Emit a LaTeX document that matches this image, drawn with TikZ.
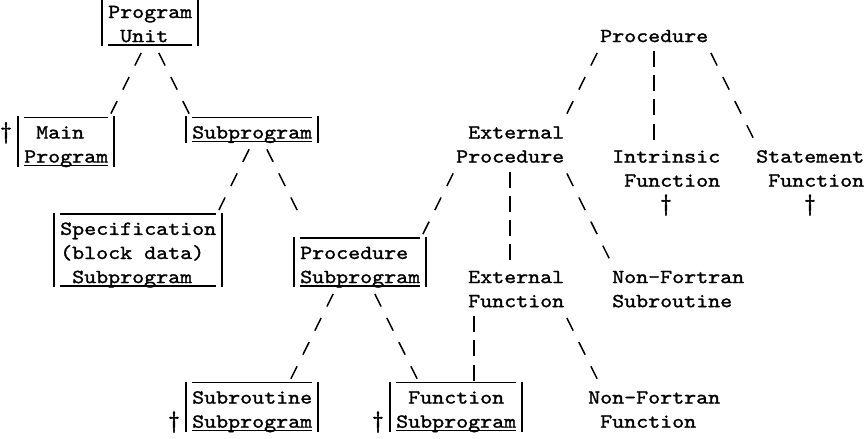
\documentclass[tikz,border=0pt]{standalone}
\usepackage{fontspec}
\newfontfamily\tw{lmmono10-regular.otf}[FakeStretch=1.142857,FakeBold=1.3]
\newfontfamily\twd{lmmono10-regular.otf}[FakeBold=2.5]
\usetikzlibrary{calc}
\begin{document}
\begin{tikzpicture}[x=1pt,y=-1pt,
  txt/.style={anchor=base west,inner sep=0pt,font=\tw\fontsize{20}{24.1}\selectfont},
  dag/.style={anchor=base,inner sep=0pt,font=\twd\fontsize{23}{24.1}\selectfont},
  rule/.style={line width=1.4pt},
  bar/.style={line width=1.6pt},
  diag/.style={line width=1.5pt,dash pattern=on 14pt off 12.92pt},
  vert/.style={line width=1.5pt,dash pattern=on 16pt off 8.1pt}]
\useasboundingbox (0,0) rectangle (868,439);
% ---------- text ----------
\node[txt] (pu1) at (108,18) {Program};
\node[txt] (pu2) at (120,42.1) {Unit};
\node[dag] (dg1) at (6,138.5) {†};
\node[txt] (mp1) at (36,138.5) {Main};
\node[txt] (mp2) at (24,162.6) {Program};
\node[txt] (sp) at (192,138.5) {Subprogram};
\node[txt] (sb1) at (60,234.9) {Specification};
\node[txt] (sb2) at (60,259) {(block data)};
\node[txt] (sb3) at (72,283.1) {Subprogram};
\node[txt] (ps1) at (300,259) {Procedure};
\node[txt] (ps2) at (300,283.1) {Subprogram};
\node[dag] (dg2) at (174,427.7) {†};
\node[txt] (sr1) at (192,403.6) {Subroutine};
\node[txt] (sr2) at (192,427.7) {Subprogram};
\node[dag] (dg3) at (378,427.7) {†};
\node[txt] (fs1) at (408,403.6) {Function};
\node[txt] (fs2) at (396,427.7) {Subprogram};
\node[txt] (pr) at (600,42.1) {Procedure};
\node[txt] (ep1) at (468,138.5) {External};
\node[txt] (ep2) at (456,162.6) {Procedure};
\node[txt] (if1) at (612,162.6) {Intrinsic};
\node[txt] (if2) at (624,186.7) {Function};
\node[dag] (dg4) at (666,210.8) {†};
\node[txt] (sf1) at (756,162.6) {Statement};
\node[txt] (sf2) at (768,186.7) {Function};
\node[dag] (dg5) at (810,210.8) {†};
\node[txt] (ef1) at (468,283.1) {External};
\node[txt] (ef2) at (468,307.2) {Function};
\node[txt] (ns1) at (612,283.1) {Non-Fortran};
\node[txt] (ns2) at (612,307.2) {Subroutine};
\node[txt] (nf1) at (588,403.6) {Non-Fortran};
\node[txt] (nf2) at (600,427.7) {Function};
% ---------- boxes ----------
% Program Unit
\draw[bar] (102,0) -- (102,46.1) (198,0) -- (198,46.1);
\draw[rule] (108,45.1) -- (192,45.1);
% Main Program
\draw[bar] (18,116.4) -- (18,166.6) (114,116.4) -- (114,166.6);
\draw[rule] (24,117.4) -- (108,117.4) (24,165.6) -- (108,165.6);
% Subprogram
\draw[bar] (186,116.4) -- (186,142.5) (318,116.4) -- (318,142.5);
\draw[rule] (192,117.4) -- (312,117.4) (192,141.5) -- (312,141.5);
% Specification
\draw[bar] (54,212.8) -- (54,287.1) (222,212.8) -- (222,287.1);
\draw[rule] (60,213.8) -- (216,213.8) (60,286.1) -- (216,286.1);
% Procedure Subprogram
\draw[bar] (294,236.9) -- (294,287.1) (426,236.9) -- (426,287.1);
\draw[rule] (300,237.9) -- (420,237.9) (300,286.1) -- (420,286.1);
% Subroutine Subprogram
\draw[bar] (186,381.5) -- (186,431.7) (318,381.5) -- (318,431.7);
\draw[rule] (192,382.5) -- (312,382.5) (192,430.7) -- (312,430.7);
% Function Subprogram
\draw[bar] (390,381.5) -- (390,431.7) (522,381.5) -- (522,431.7);
\draw[rule] (396,382.5) -- (516,382.5) (396,430.7) -- (516,430.7);
% ---------- connector end points ----------
\coordinate (a1) at (138,59.2);  \coordinate (b1) at (114,107.4);
\coordinate (a2) at (162,59.2);  \coordinate (b2) at (186,107.4);
\coordinate (a3) at (246,155.6); \coordinate (b3) at (222,203.8);
\coordinate (a4) at (270,155.6); \coordinate (b4) at (294,203.8);
\coordinate (a5) at (594,59.2);  \coordinate (b5) at (570,107.4);
\coordinate (a6) at (654,59.2);  \coordinate (b6) at (654,131.5);
\coordinate (a7) at (714,59.2);  \coordinate (b7) at (750,131.5);
\coordinate (a8) at (450,179.7); \coordinate (b8) at (426,227.9);
\coordinate (a9) at (510,179.7); \coordinate (b9) at (510,252.0);
\coordinate (a10) at (570,179.7); \coordinate (b10) at (606,252.0);
\coordinate (a11) at (330,300.2); \coordinate (b11) at (294,372.5);
\coordinate (a12) at (378,300.2); \coordinate (b12) at (414,372.5);
\coordinate (a13) at (474,324.3); \coordinate (b13) at (474,372.5);
\coordinate (a14) at (570,324.3); \coordinate (b14) at (594,372.5);
% ---------- connectors ----------
\foreach \i in {1,2,3,4,5,7,8,10,11,12,14}{
  \draw[diag] ($(a\i)!-7pt!(b\i)$) -- ($(b\i)!-7pt!(a\i)$);
}
\foreach \i in {6,9,13}{
  \draw[vert] ($(a\i)!-8pt!(b\i)$) -- ($(b\i)!-8pt!(a\i)$);
}
\end{tikzpicture}
\end{document}
